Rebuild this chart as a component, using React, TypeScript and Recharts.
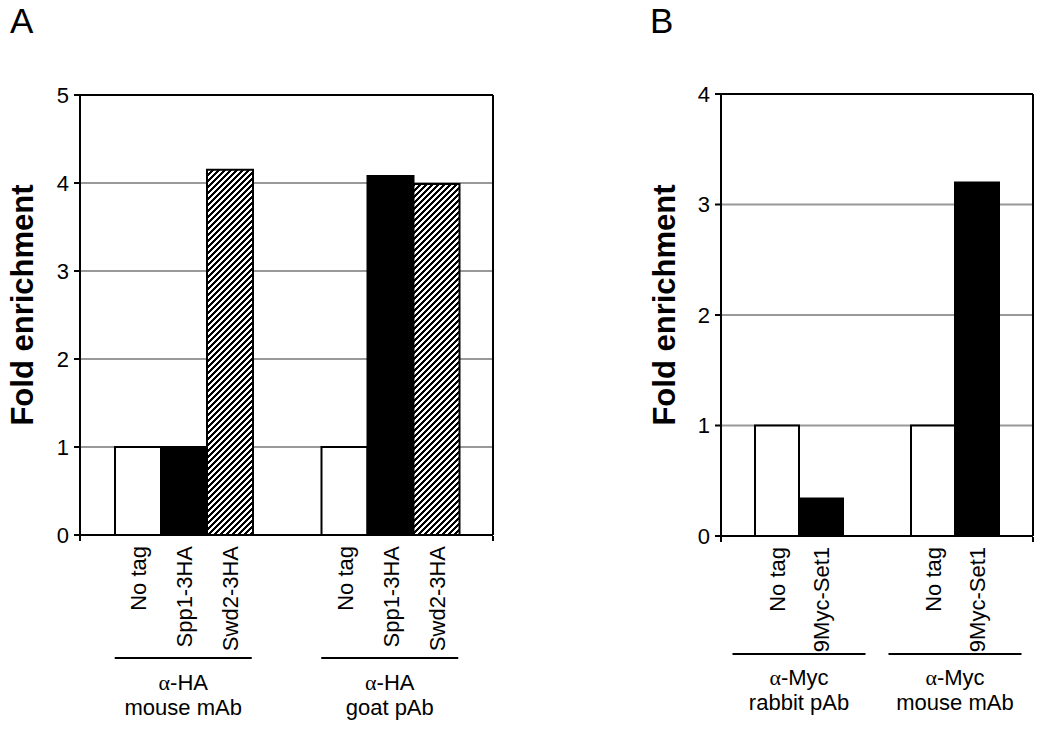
import React from "react";
import { BarChart, Bar, XAxis, YAxis, CartesianGrid, LabelList } from "recharts";

// Panel A: alpha-HA ChIP
const seriesA = ["No tag", "Spp1-3HA", "Swd2-3HA"];
const antibodyA = ["α-HA", "α-HA"];
const sourceA = ["mouse mAb", "goat pAb"];
const noTagA = [1.0, 1.0];
const spp1A = [1.0, 4.08];
const swd2A = [4.15, 3.99];
const ticksA = [0, 1, 2, 3, 4, 5];

// Panel B: alpha-Myc ChIP
const seriesB = ["No tag", "9Myc-Set1"];
const antibodyB = ["α-Myc", "α-Myc"];
const sourceB = ["rabbit pAb", "mouse mAb"];
const noTagB = [1.0, 1.0];
const set1B = [0.34, 3.2];
const ticksB = [0, 1, 2, 3, 4];

const dividers = [0, 1, 2];

const FONT = "'Liberation Sans', Arial, sans-serif";

const dataA = sourceA.map((s, i) => ({
  source: s,
  antibody: antibodyA[i],
  noTag: noTagA[i],
  spp1: spp1A[i],
  swd2: swd2A[i],
}));

const dataB = sourceB.map((s, i) => ({
  source: s,
  antibody: antibodyB[i],
  noTag: noTagB[i],
  set1: set1B[i],
}));

const GroupTick = (props: any) => {
  const { x, y, index, payload, rows, lineW, lineDy, textDy } = props;
  const ab: string = rows[index]?.antibody ?? "";
  return (
    <g>
      <line
        x1={x - lineW / 2}
        x2={x + lineW / 2}
        y1={y + lineDy}
        y2={y + lineDy}
        stroke="#000"
        strokeWidth={2}
      />
      <text x={x} y={y + textDy} textAnchor="middle" fontSize={22} fill="#000" fontFamily={FONT}>
        <tspan fontFamily="'Liberation Serif', serif">{ab.slice(0, 1)}</tspan>
        {ab.slice(1)}
      </text>
      <text x={x} y={y + textDy + 25} textAnchor="middle" fontSize={22} fill="#000" fontFamily={FONT}>
        {payload.value}
      </text>
    </g>
  );
};

const barLabel = (name: string) => (props: any) => {
  const vb = props.viewBox ?? props;
  const cx = vb.x + vb.width / 2 + 8;
  const by = vb.y + vb.height + 11;
  return (
    <text
      x={cx}
      y={by}
      transform={`rotate(-90 ${cx} ${by})`}
      textAnchor="end"
      fontSize={22}
      fill="#000"
      fontFamily={FONT}
    >
      {name}
    </text>
  );
};

const blank = () => <g />;

const axisLine = { stroke: "#000", strokeWidth: 2 };

export default function App() {
  return (
    <div
      style={{
        position: "absolute",
        left: 0,
        top: 0,
        width: 1050,
        height: 729,
        background: "#fff",
        fontFamily: FONT,
      }}
    >
      {/* A */}
      <div style={{ position: "absolute", left: 0, top: 0 }}>
        <BarChart
          width={520}
          height={729}
          data={dataA}
          margin={{ top: 94, right: 26, bottom: 192, left: 79 }}
          barCategoryGap={35}
          barGap={0}
        >
          <defs>
            <pattern id="hatchA" patternUnits="userSpaceOnUse" width={6} height={6}>
              <rect width={6} height={6} fill="#fff" />
              <polygon points="0,3 3,0 6,0 0,6" fill="#000" shapeRendering="crispEdges" />
              <polygon points="6,3 3,6 6,6" fill="#000" shapeRendering="crispEdges" />
            </pattern>
          </defs>
          <CartesianGrid xAxisId="cat" yAxisId="val" vertical={false} stroke="#999" strokeWidth={2} />
          <XAxis
            xAxisId="cat"
            dataKey="source"
            height={1}
            tickSize={0}
            tickMargin={0}
            tickLine={false}
            axisLine={axisLine}
            interval={0}
            tick={(p: any) => <GroupTick {...p} rows={dataA} lineW={137} lineDy={123} textDy={155} />}
          />
          <XAxis
            xAxisId="div"
            type="number"
            domain={[0, 2]}
            ticks={dividers}
            height={1}
            axisLine={false}
            tickSize={5}
            tickLine={{ stroke: "#000", strokeWidth: 2 }}
            tick={blank}
          />
          <XAxis xAxisId="top" orientation="top" dataKey="source" height={1} tick={false} tickLine={false} axisLine={axisLine} />
          <YAxis
            yAxisId="val"
            width={1}
            domain={[0, 5]}
            ticks={ticksA}
            interval={0}
            tickSize={6}
            tickMargin={5}
            axisLine={axisLine}
            tickLine={{ stroke: "#000", strokeWidth: 2 }}
            tick={{ fontSize: 22, fill: "#000", fontFamily: FONT }}
          />
          <YAxis yAxisId="right" orientation="right" width={1} domain={[0, 5]} tick={false} tickLine={false} axisLine={axisLine} />
          <Bar xAxisId="cat" yAxisId="val" dataKey="noTag" fill="#fff" stroke="#000" strokeWidth={2} isAnimationActive={false}>
            <LabelList content={barLabel(seriesA[0])} />
          </Bar>
          <Bar xAxisId="cat" yAxisId="val" dataKey="spp1" fill="#000" stroke="#000" strokeWidth={2} isAnimationActive={false}>
            <LabelList content={barLabel(seriesA[1])} />
          </Bar>
          <Bar xAxisId="cat" yAxisId="val" dataKey="swd2" fill="url(#hatchA)" stroke="#000" strokeWidth={2} isAnimationActive={false}>
            <LabelList content={barLabel(seriesA[2])} />
          </Bar>
        </BarChart>
      </div>

      {/* B */}
      <div style={{ position: "absolute", left: 520, top: 0 }}>
        <BarChart
          width={530}
          height={729}
          data={dataB}
          margin={{ top: 93, right: 16, bottom: 191, left: 200 }}
          barCategoryGap={34}
          barGap={0}
        >
          <CartesianGrid xAxisId="cat" yAxisId="val" vertical={false} stroke="#999" strokeWidth={2} />
          <XAxis
            xAxisId="cat"
            dataKey="source"
            height={1}
            tickSize={0}
            tickMargin={0}
            tickLine={false}
            axisLine={axisLine}
            interval={0}
            tick={(p: any) => <GroupTick {...p} rows={dataB} lineW={133} lineDy={118} textDy={149} />}
          />
          <XAxis
            xAxisId="div"
            type="number"
            domain={[0, 2]}
            ticks={dividers}
            height={1}
            axisLine={false}
            tickSize={5}
            tickLine={{ stroke: "#000", strokeWidth: 2 }}
            tick={blank}
          />
          <XAxis xAxisId="top" orientation="top" dataKey="source" height={1} tick={false} tickLine={false} axisLine={axisLine} />
          <YAxis
            yAxisId="val"
            width={1}
            domain={[0, 4]}
            ticks={ticksB}
            interval={0}
            tickSize={6}
            tickMargin={5}
            axisLine={axisLine}
            tickLine={{ stroke: "#000", strokeWidth: 2 }}
            tick={{ fontSize: 22, fill: "#000", fontFamily: FONT }}
          />
          <YAxis yAxisId="right" orientation="right" width={1} domain={[0, 4]} tick={false} tickLine={false} axisLine={axisLine} />
          <Bar xAxisId="cat" yAxisId="val" dataKey="noTag" fill="#fff" stroke="#000" strokeWidth={2} isAnimationActive={false}>
            <LabelList content={barLabel(seriesB[0])} />
          </Bar>
          <Bar xAxisId="cat" yAxisId="val" dataKey="set1" fill="#000" stroke="#000" strokeWidth={2} isAnimationActive={false}>
            <LabelList content={barLabel(seriesB[1])} />
          </Bar>
        </BarChart>
      </div>

      {/* panel letters and axis titles */}
      <svg
        width={1050}
        height={729}
        style={{ position: "absolute", left: 0, top: 0, pointerEvents: "none" }}
      >
        <text x={10} y={33} fontSize={35} fill="#000" fontFamily={FONT}>A</text>
        <text x={650} y={33} fontSize={35} fill="#000" fontFamily={FONT}>B</text>
        <text
          x={33}
          y={305}
          transform="rotate(-90 33 305)"
          textAnchor="middle"
          fontSize={31}
          fontWeight="bold"
          fill="#000"
          fontFamily={FONT}
        >
          Fold enrichment
        </text>
        <text
          x={675}
          y={305}
          transform="rotate(-90 675 305)"
          textAnchor="middle"
          fontSize={31}
          fontWeight="bold"
          fill="#000"
          fontFamily={FONT}
        >
          Fold enrichment
        </text>
      </svg>
    </div>
  );
}
